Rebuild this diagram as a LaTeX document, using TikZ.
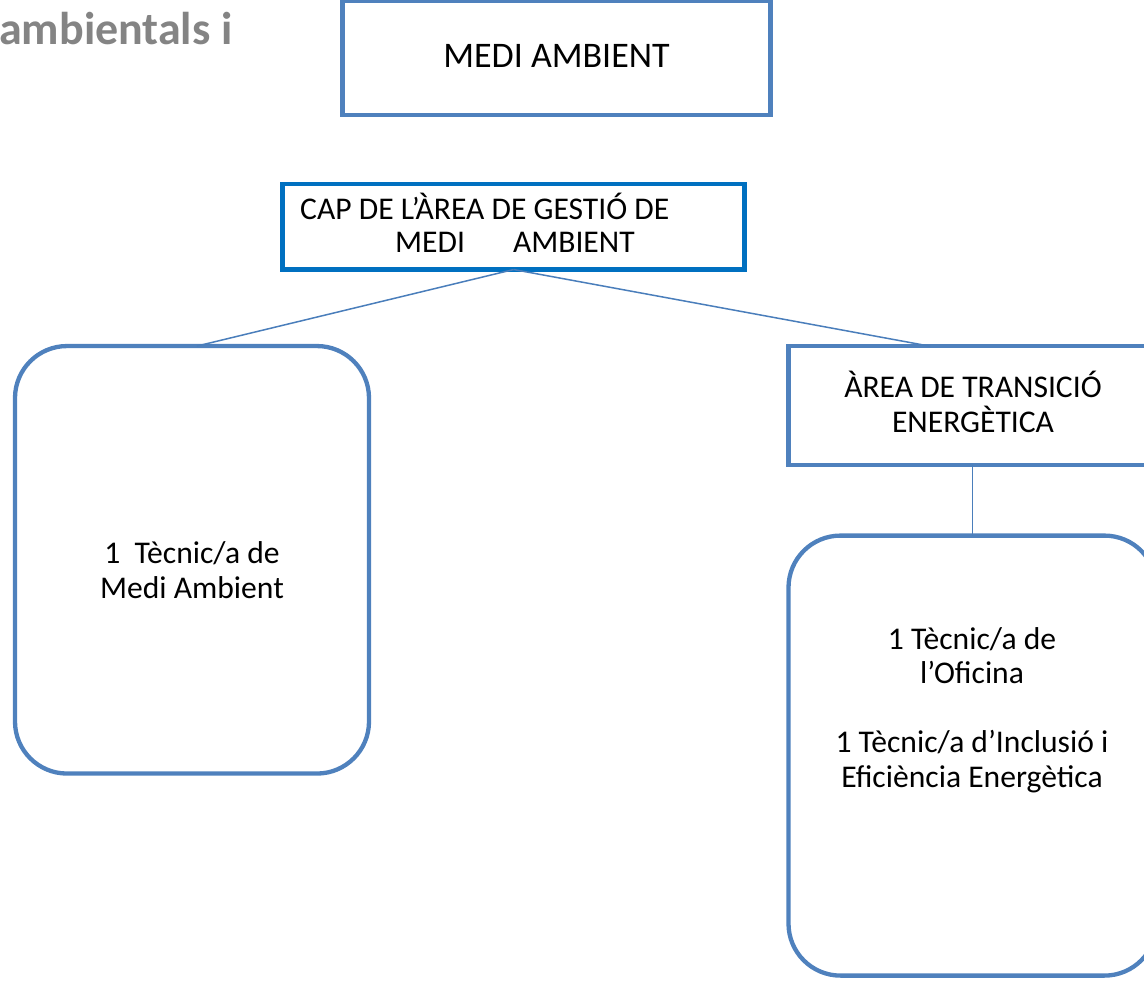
\documentclass[tikz,border=0pt]{standalone}
\usepackage{fontspec}
\setmainfont{Carlito}
\definecolor{boxblue}{RGB}{79,129,189}
\definecolor{capblue}{RGB}{0,112,192}
\definecolor{lineblue}{RGB}{74,126,187}
\definecolor{titlegray}{RGB}{132,132,132}
\tikzset{
  sqbox/.style={draw=boxblue, line width=4.3pt, rectangle, inner sep=0pt, outer sep=0pt},
  rbox/.style={sqbox, rounded corners=52pt},
  capbox/.style={draw=capblue, line width=4.8pt, rectangle, inner sep=0pt, outer sep=0pt},
  lbl/.style={inner sep=0pt, font=\fontsize{31.6}{36}\selectfont, text=black},
  conn/.style={draw=lineblue, line width=1.5pt}
}
\begin{document}
\begin{tikzpicture}[x=1pt,y=-1pt]
\useasboundingbox (0,0) rectangle (1144,984);
% title fragment
\node[inner sep=0pt, anchor=base west, text=titlegray, font=\fontsize{46}{52}\selectfont\bfseries] (title) at (-1,45) {ambientals i};
% boxes
\node[sqbox, minimum width=428pt, minimum height=114.5pt] (medi) at (556.5,58) {};
\node[capbox, minimum width=462pt, minimum height=85.5pt] (cap) at (513.6,226.8) {};
\node[rbox, minimum width=354pt, minimum height=427.5pt] (left) at (192,559.8) {};
\node[sqbox, minimum width=368pt, minimum height=119pt] (area) at (972.5,405.7) {};
\node[rbox, minimum width=368pt, minimum height=440pt] (right) at (972.5,755.6) {};
% connectors
\draw[conn] (cap.south) -- ([xshift=5pt]left.north);
\draw[conn] (cap.south) -- ([xshift=-42.5pt]area.north);
\draw[conn] (area.south) -- (right.north);
% texts
\node[lbl, anchor=base, font=\fontsize{36}{40}\selectfont] (tmedi) at (556.5,68) {MEDI AMBIENT};
\node[lbl, anchor=base west] (tcap1) at (300,220) {CAP DE L’ÀREA DE GESTIÓ DE};
\node[lbl, anchor=base west] (tcap2) at (395,253) {MEDI\hspace{48pt}AMBIENT};
\node[lbl, anchor=base] (tarea1) at (973,398) {ÀREA DE TRANSICIÓ};
\node[lbl, anchor=base] (tarea2) at (973,432) {ENERGÈTICA};
\node[lbl, anchor=base] (tleft1) at (192,563) {1\ \ Tècnic/a de};
\node[lbl, anchor=base] (tleft2) at (192,598) {Medi Ambient};
\node[lbl, anchor=base] (tr1) at (972,649) {1 Tècnic/a de};
\node[lbl, anchor=base] (tr2) at (972,683) {l’Oficina};
\node[lbl, anchor=base] (tr3) at (972,752) {1 Tècnic/a d’Inclusió i};
\node[lbl, anchor=base] (tr4) at (972,787) {Eficiència Energètica};
\end{tikzpicture}
\end{document}
